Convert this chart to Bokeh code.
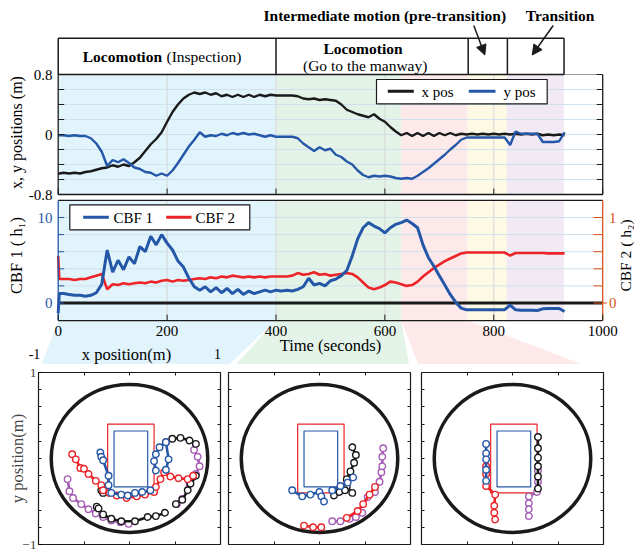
import math
from bokeh.plotting import figure
from bokeh.models import Range1d, FixedTicker, LinearAxis, Arrow, NormalHead
from bokeh.layouts import column, row
from bokeh.embed import file_html
from bokeh.resources import INLINE
from bokeh.core.properties import value

FONT = "Liberation Serif"
NAN = float("nan")

# ------------------------------------------------------------------ data
time_s = [0, 2] + list(range(10, 940, 10))

x_pos = [
    -0.52, -0.52,
    -0.51, -0.52, -0.51, -0.52, -0.50, -0.49, -0.47, -0.45, -0.44, -0.41,
    -0.43, -0.40, -0.42, -0.37, -0.31, -0.22, -0.13, -0.06, 0.03, 0.17,
    0.30, 0.40, 0.48, 0.53, 0.56, 0.54, 0.56, 0.53, 0.55, 0.51,
    0.53, 0.50, 0.53, 0.50, 0.53, 0.50, 0.53, 0.51, 0.53, 0.52,
    0.52, 0.52, 0.52, 0.51, 0.48, 0.47, 0.48, 0.46, 0.47, 0.46,
    0.45, 0.40, 0.33, 0.30, 0.27, 0.25, 0.23, 0.27, 0.21, 0.17,
    0.10, 0.04, -0.01, 0.02, -0.02, 0.02, -0.02, 0.02, -0.02, 0.02,
    -0.01, 0.02, -0.01, 0.01, 0.00, 0.01, 0.00, 0.01, 0.00, 0.01,
    0.00, 0.01, 0.00, 0.01, 0.00, 0.01, 0.00, 0.01, -0.01, 0.00,
    -0.01, 0.00, -0.01]

y_pos = [
    -0.01, -0.01,
    -0.01, -0.02, -0.01, -0.02, -0.02, -0.05, -0.12, -0.23, -0.42, -0.34,
    -0.37, -0.33, -0.38, -0.44, -0.46, -0.50, -0.51, -0.55, -0.52, -0.55,
    -0.48, -0.38, -0.27, -0.16, -0.07, 0.03, -0.03, -0.01, -0.02, 0.01,
    -0.01, 0.02, 0.00, 0.02, 0.00, 0.01, -0.01, -0.03, -0.01, -0.03,
    -0.03, -0.03, -0.03, -0.05, -0.12, -0.17, -0.22, -0.17, -0.21, -0.19,
    -0.27, -0.30, -0.36, -0.40, -0.48, -0.54, -0.57, -0.55, -0.56, -0.55,
    -0.56, -0.58, -0.59, -0.58, -0.59, -0.55, -0.50, -0.45, -0.39, -0.33,
    -0.27, -0.20, -0.14, -0.07, -0.04, -0.04, -0.04, -0.04, -0.04, -0.04,
    -0.04, -0.04, -0.14, 0.04, 0.01, 0.01, 0.01, 0.01, -0.10, -0.10,
    -0.10, -0.09, 0.03]

cbf1 = [
    -1.2, 1.1,
    1.1, 1.0, 0.9, 0.9, 0.8, 0.9, 1.2, 2.2, 6.2, 3.6,
    5.0, 3.9, 5.4, 4.6, 6.6, 6.0, 7.8, 6.8, 8.0, 7.0,
    6.2, 4.9, 4.2, 2.9, 1.9, 1.5, 1.9, 1.3, 1.8, 1.2,
    1.7, 1.1, 1.6, 1.0, 1.4, 1.1, 1.3, 1.5, 1.3, 1.5,
    1.4, 1.5, 1.4, 1.6, 1.9, 2.9, 2.1, 2.3, 2.0, 2.6,
    2.8, 3.2, 3.8, 5.5, 7.5, 8.8, 9.4, 9.0, 8.7, 8.2,
    8.8, 9.2, 9.4, 9.7, 9.3, 8.8, 6.8, 5.3, 4.3, 3.2,
    2.1, 1.0, 0.1, -0.6, -0.8, -0.8, -0.8, -0.8, -0.8, -0.8,
    -0.8, -0.78, -0.25, -0.8, -0.85, -0.85, -0.85, -0.88, -0.68, -0.63,
    -0.63, -0.65, -1.0]

cbf2 = [
    0.55, 0.28,
    0.28, 0.28, 0.27, 0.28, 0.28, 0.30, 0.32, 0.34, 0.16, 0.22,
    0.21, 0.23, 0.22, 0.23, 0.24, 0.23, 0.25, 0.24, 0.26, 0.27,
    0.25, 0.27, 0.26, 0.27, 0.28, 0.29, 0.28, 0.30, 0.29, 0.31,
    0.30, 0.32, 0.31, 0.30, 0.31, 0.30, 0.31, 0.30, 0.31, 0.31,
    0.31, 0.31, 0.32, 0.35, 0.33, 0.34, 0.36, 0.33, 0.34, 0.32,
    0.33, 0.34, 0.35, 0.34, 0.30, 0.24, 0.18, 0.16, 0.18, 0.21,
    0.25, 0.24, 0.22, 0.20, 0.21, 0.25, 0.31, 0.36, 0.41, 0.45,
    0.49, 0.52, 0.55, 0.58, 0.59, 0.59, 0.59, 0.59, 0.59, 0.59,
    0.59, 0.59, 0.555, 0.585, 0.585, 0.585, 0.585, 0.585, 0.585, 0.58,
    0.58, 0.58, 0.58]

phase_edges = [0, 400, 630, 752, 824, 929]
phase_colors = ["#e1f3fb", "#e4f3e7", "#fde9e9", "#fef9e4", "#f1eaf5"]
header_edges = [0, 400, 753, 825, 929]
time_limits = [0, 1000]
time_ticks = [0, 200, 400, 600, 800, 1000]
time_tick_labels = ["0", "200", "400", "600", "800", "1000"]
pos_lim = (-0.8, 0.8)
pos_ticks = [0.8, 0, -0.8]
pos_tick_labels = ["0.8", "0", "-0.8"]
pos_minor = [-0.8, -0.6, -0.4, -0.2, 0, 0.2, 0.4, 0.6, 0.8]
cbf1_lim = (-2.05, 12.0)
cbf1_ticks = [10, 0]
cbf1_tick_labels = ["10", "0"]
cbf1_minor = [0, 2, 4, 6, 8, 10]
cbf2_lim = (-0.205, 1.2)
cbf2_ticks = [1, 0]
cbf2_tick_labels = ["1", "0"]
cbf2_minor = [0, 0.2, 0.4, 0.6, 0.8, 1.0]

# bottom panels (x, y positions of the four legs, in metres)
tank_radius = 0.86
robot_outer = (-0.24, 0.27, -0.40, 0.40)
robot_inner = (-0.17, 0.20, -0.33, 0.32)
sub_x_minor = [-0.5, 0, 0.5]
sub_y_minor = [-0.8, -0.6, -0.4, -0.2, 0, 0.2, 0.4, 0.6, 0.8]

s1_red_x = [-0.63, -0.59, -0.54, -0.50, -0.45, -0.37, -0.31, -0.29, -0.22, -0.14, -0.03, 0.08, 0.17, 0.27, 0.29, 0.34, 0.38, 0.45, 0.54, 0.64, 0.70]
s1_red_y = [0.05, -0.01, -0.11, -0.12, -0.18, -0.26, -0.31, -0.37, -0.40, -0.43, -0.46, -0.44, -0.42, -0.39, -0.33, -0.24, -0.16, -0.21, -0.23, -0.24, -0.20]
s1_blue_x = [-0.32, -0.31, -0.29, -0.23, -0.23, -0.20, -0.09, -0.02, 0.06, 0.14, 0.23, NAN, 0.29, 0.27, 0.29, 0.33, 0.40, 0.43, 0.40]
s1_blue_y = [0.07, 0.02, -0.02, -0.20, -0.31, -0.40, -0.42, -0.43, -0.40, -0.39, -0.37, NAN, -0.14, -0.03, 0.05, 0.13, 0.19, -0.01, -0.13]
s1_black_x = [-0.36, -0.34, -0.29, -0.20, -0.09, 0.06, 0.20, 0.29, 0.39, NAN, 0.51, 0.58, 0.64, 0.67, 0.73, NAN, 0.40, 0.47, 0.56, 0.66, 0.73, NAN, -0.31, -0.29]
s1_black_y = [-0.56, -0.58, -0.65, -0.70, -0.73, -0.73, -0.68, -0.67, -0.63, NAN, -0.53, -0.48, -0.37, -0.29, -0.20, NAN, 0.19, 0.23, 0.24, 0.21, 0.17, NAN, -0.37, -0.40]
s1_purple_x = [-0.68, -0.66, -0.62, -0.53, -0.45, -0.37, -0.29, -0.20, -0.10, -0.01, NAN, 0.71, 0.75, 0.77, 0.73, 0.69, 0.66, NAN, 0.58, 0.52]
s1_purple_y = [-0.24, -0.38, -0.46, -0.53, -0.59, -0.64, -0.68, -0.72, -0.74, -0.76, NAN, 0.10, 0.02, -0.09, -0.18, -0.22, -0.30, NAN, -0.47, -0.53]

s2_blue_x = [-0.30, -0.19, -0.10, 0.00, 0.02, 0.05, NAN, 0.14, 0.23, 0.31, 0.37]
s2_blue_y = [-0.37, -0.44, -0.42, -0.39, -0.44, -0.50, NAN, -0.37, -0.32, -0.28, -0.22]
s2_black_x = [0.36, 0.40, 0.38, 0.34, 0.30, 0.30, 0.36, NAN, 0.16, 0.22, 0.28]
s2_black_y = [0.13, 0.04, -0.05, -0.15, -0.24, -0.33, -0.40, NAN, -0.43, -0.39, -0.37]
s2_red_x = [-0.17, -0.07, 0.02, NAN, 0.30, 0.42, 0.48, 0.55, 0.61]
s2_red_y = [-0.78, -0.80, -0.80, NAN, -0.69, -0.61, -0.53, -0.42, -0.33]
s2_purple_x = [0.14, 0.23, 0.33, 0.40, 0.47, NAN, 0.53, 0.61, 0.66, 0.68, 0.69, 0.69, 0.70]
s2_purple_y = [-0.73, -0.73, -0.70, -0.68, -0.63, NAN, -0.45, -0.39, -0.27, -0.16, -0.09, 0.02, 0.12]

s3_blue_x = [-0.29, -0.29, -0.29, -0.29, -0.29]
s3_blue_y = [0.17, 0.06, -0.01, -0.13, -0.26]
s3_red_x = [-0.29, -0.29, -0.29, -0.19, -0.20, -0.20, -0.19]
s3_red_y = [-0.09, -0.18, -0.32, -0.42, -0.55, -0.63, -0.71]
s3_black_x = [0.28, 0.28, 0.28, 0.28, 0.28, 0.28]
s3_black_y = [0.25, 0.12, 0.01, -0.09, -0.21, -0.35]
s3_purple_x = [0.28, 0.28, 0.27, 0.18, 0.18, 0.18, 0.18]
s3_purple_y = [-0.14, -0.27, -0.39, -0.44, -0.52, -0.59, -0.67]

# ------------------------------------------------------------------ style
BLUE = "#2457a8"
RED = "#ec2327"
BLACK = "#1a1a1a"
ORANGE = "#d95319"
PURPLE = "#a55db5"
GRID_H = "#cfe1ec"
GRID_V = "#d6d6d6"

W = 634
H1 = 364
H2 = 550 - H1
SUB_TOP = 8
Y_TOP, Y_BOT = 0, H1


def tx(X):
    """page x pixel -> time units of the top panel"""
    return (X - 57.7) / 0.5445


def rng(y0, k):
    return Range1d(start=(y0 - Y_BOT) / k, end=(y0 - Y_TOP) / k)


def txt(p, x, y, text, size="15px", align="center", baseline="middle", color="black",
        style="normal", angle=0, yr="default"):
    p.text(x=x, y=y, text=text, text_font=value(FONT), text_font_size=value(size),
           text_align=align, text_baseline=baseline, text_color=color,
           text_font_style=style, angle=angle, y_range_name=yr)


top = figure(width=W, height=H1, x_range=Range1d(tx(0), tx(W)), y_range=Range1d(Y_BOT, Y_TOP),
             output_backend="svg", toolbar_location=None, min_border=0,
             x_axis_location=None, y_axis_location=None)
top.grid.visible = False
top.outline_line_color = None
top.extra_y_ranges = {"pos": rng(134, 75), "cbf1": rng(302.5, 8.55), "cbf2": rng(302.5, 85.5)}

# connector wedges toward the bottom panels
wedge_xs = [[phase_edges[0], phase_edges[1], tx(220), tx(38)],
            [phase_edges[1], phase_edges[2], tx(410), tx(228)],
            [phase_edges[2], phase_edges[3], tx(603), tx(421)]]
wedge_ys = [[320, 320, H1 + SUB_TOP, H1 + SUB_TOP]] * 3
top.patches(wedge_xs, wedge_ys, fill_color=phase_colors[:3], line_color=None)

# phase bands
for yr, lim in (("pos", pos_lim), ("cbf1", cbf1_lim)):
    top.quad(left=phase_edges[:-1], right=phase_edges[1:], bottom=lim[0], top=lim[1],
             fill_color=phase_colors, line_color=None, y_range_name=yr)
    top.segment(x0=time_ticks[1:-1], y0=lim[0], x1=time_ticks[1:-1], y1=lim[1],
                line_color=GRID_V, line_width=1, y_range_name=yr)

hg = [v for v in pos_minor if abs(v) < 0.7]
top.segment(x0=0, y0=hg, x1=1000, y1=hg, line_color=GRID_H, line_width=1, y_range_name="pos")
hg2 = [v for v in cbf1_minor if v > 0]
top.segment(x0=0, y0=hg2, x1=1000, y1=hg2, line_color=GRID_H, line_width=1, y_range_name="cbf1")

# zero reference line in CBF panel
top.line(time_limits, [0, 0], line_color=BLACK, line_width=3, y_range_name="cbf1")

# series
top.line(time_s, x_pos, line_color=BLACK, line_width=2.4, y_range_name="pos")
top.line(time_s, y_pos, line_color=BLUE, line_width=2.4, y_range_name="pos")
top.line(time_s, cbf2, line_color=RED, line_width=2.6, y_range_name="cbf2")
top.line(time_s, cbf1, line_color=BLUE, line_width=3, y_range_name="cbf1")

# frames
top.segment(x0=[0, 1000, 0], y0=[-0.8, -0.8, -0.8], x1=[0, 1000, 1000], y1=[0.8, 0.8, -0.8],
            line_color=BLACK, line_width=1.3, y_range_name="pos")
top.segment(x0=929, y0=0.8, x1=1000, y1=0.8, line_color="#999999", line_width=1, y_range_name="pos")
top.segment(x0=[0, 0], y0=[cbf1_lim[0], cbf1_lim[1]], x1=[1000, 1000], y1=[cbf1_lim[0], cbf1_lim[1]],
            line_color=BLACK, line_width=1.3, y_range_name="cbf1")
top.segment(x0=0, y0=cbf1_lim[0], x1=0, y1=cbf1_lim[1], line_color=BLUE, line_width=1.3, y_range_name="cbf1")
top.segment(x0=1000, y0=cbf2_lim[0], x1=1000, y1=cbf2_lim[1], line_color=ORANGE, line_width=1.3, y_range_name="cbf2")

# ticks (inside)
TL = 11
top.segment(x0=0, y0=pos_minor, x1=TL, y1=pos_minor, line_color=BLACK, y_range_name="pos")
top.segment(x0=1000, y0=pos_minor, x1=1000 - TL, y1=pos_minor, line_color=BLACK, y_range_name="pos")
top.segment(x0=0, y0=cbf1_minor, x1=TL, y1=cbf1_minor, line_color=BLUE, y_range_name="cbf1")
top.segment(x0=1000, y0=cbf2_minor, x1=1000 - 17, y1=cbf2_minor, line_color=ORANGE, y_range_name="cbf2")
top.segment(x0=1000, y0=0, x1=1000 + 8, y1=0, line_color=ORANGE, y_range_name="cbf2")
top.segment(x0=time_ticks, y0=cbf1_lim[0], x1=time_ticks, y1=cbf1_lim[0] + 0.7, line_color=BLACK, y_range_name="cbf1")
top.segment(x0=time_ticks, y0=-0.8, x1=time_ticks, y1=-0.72, line_color=BLACK, y_range_name="pos")

# tick labels
txt(top, [tx(52)] * 3, pos_ticks, pos_tick_labels, align="right", yr="pos")
txt(top, [tx(52)] * 2, cbf1_ticks, cbf1_tick_labels, align="right", color=BLUE, yr="cbf1")
txt(top, [tx(608.5)] * 2, cbf2_ticks, cbf2_tick_labels, align="left", color=ORANGE, yr="cbf2")
txt(top, time_ticks, [330.5] * len(time_ticks), time_tick_labels)
txt(top, [500], [345], ["Time (seconds)"], size="16.5px")

# axis titles
txt(top, [tx(15.5)], [132], ["x, y positions (m)"], size="16px", angle=math.pi / 2)
txt(top, [tx(16)], [255], ["CBF 1 ( h\u2081)"], size="16.5px", angle=math.pi / 2)
txt(top, [tx(625)], [255], ["CBF 2 ( h\u2082)"], size="15.5px", angle=math.pi / 2)

# labels of the first bottom panel's top axis
txt(top, [tx(126)], [354], ["x position(m)"], size="16.5px")
txt(top, [tx(34)], [353], ["-1"], size="14px")
txt(top, [tx(217)], [353], ["1"], size="14px")

# header phase boxes
top.segment(x0=0, y0=[37.7, 74], x1=header_edges[-1], y1=[37.7, 74], line_color=BLACK, line_width=1.5)
top.segment(x0=header_edges, y0=37.7, x1=header_edges, y1=74, line_color=BLACK, line_width=1.5)
txt(top, [tx(161.5)], [56], ["Locomotion"], size="15.5px", align="right", style="bold")
txt(top, [tx(166)], [56], ["(Inspection)"], size="15.5px", align="left")
txt(top, [tx(362.5)], [47.5], ["Locomotion"], size="15.5px", style="bold")
txt(top, [tx(364.7)], [65], ["(Go to the manway)"], size="15.5px")
txt(top, [tx(384.3)], [14.5], ["Intermediate motion (pre-transition)"], size="15.5px", style="bold")
txt(top, [tx(559.5)], [14.5], ["Transition"], size="15.5px", style="bold")
for xs, ys, xe, ye in ((473.3, 25, 484.3, 54.5), (552.7, 25, 531.7, 54.5)):
    top.add_layout(Arrow(x_start=tx(xs), y_start=ys, x_end=tx(xe), y_end=ye, line_width=1.5,
                         line_color=BLACK,
                         end=NormalHead(size=10, fill_color=BLACK, line_color=BLACK)))

# legends
top.quad(left=tx(376), right=tx(546.7), bottom=103.3, top=79, fill_color="white", line_color=BLACK, line_width=1.2)
top.segment(x0=[tx(387.3), tx(468.3)], y0=90.7, x1=[tx(413.3), tx(495)], y1=90.7,
            line_color=[BLACK, BLUE], line_width=3)
txt(top, [tx(421), tx(503)], [91, 91], ["x pos", "y pos"], align="left")

top.quad(left=tx(69.3), right=tx(249.3), bottom=229.3, top=204.3, fill_color="white", line_color=BLACK, line_width=1.2)
top.segment(x0=[tx(82.7), tx(165.7)], y0=216.7, x1=[tx(108.3), tx(191)], y1=216.7,
            line_color=[BLUE, RED], line_width=3)
txt(top, [tx(113), tx(195)], [217, 217], ["CBF 1", "CBF 2"], align="left")


# ------------------------------------------------------------------ bottom panels
def subplot(width, left_b, right_b, legs, with_labels):
    p = figure(width=width, height=H2, x_range=Range1d(-1, 1), y_range=Range1d(-1, 1),
               output_backend="svg", toolbar_location=None,
               x_axis_location=None, y_axis_location=None,
               min_border_left=left_b, min_border_right=right_b,
               min_border_top=SUB_TOP, min_border_bottom=6)
    p.grid.visible = False
    p.outline_line_color = BLACK
    p.outline_line_width = 1.2
    for side in ("left", "right", "above", "below"):
        vertical = side in ("left", "right")
        labelled = with_labels and side == "left"
        ticker = FixedTicker(ticks=[-1, 1] if labelled else [],
                             minor_ticks=sub_y_minor if vertical else sub_x_minor)
        ax = LinearAxis(ticker=ticker, axis_line_color=None, major_tick_in=3, major_tick_out=0,
                        minor_tick_in=3, minor_tick_out=0, minor_tick_line_color=BLACK,
                        major_label_standoff=2, major_label_text_font=FONT,
                        major_label_text_font_size="13.5px")
        if labelled:
            ax.axis_label = "y position(m)"
            ax.axis_label_text_font = FONT
            ax.axis_label_text_font_style = "normal"
            ax.axis_label_text_font_size = "16.5px"
            ax.axis_label_standoff = -8
        p.add_layout(ax, side)
    p.ellipse(x=0, y=0, width=2 * tank_radius, height=2 * tank_radius, fill_color=None,
              line_color=BLACK, line_width=3.5)
    for (l, r, b, t), c in ((robot_outer, RED), (robot_inner, BLUE)):
        p.quad(left=l, right=r, bottom=b, top=t, fill_color=None, line_color=c, line_width=1.2)
    for xs, ys, c in legs:
        p.line(xs, ys, line_color=c, line_width=2.6)
        p.scatter(xs, ys, marker="circle", size=6.5, fill_color="white", line_color=c, line_width=1.4)
    return p


s1 = subplot(224, 38, 4, [(s1_purple_x, s1_purple_y, PURPLE), (s1_black_x, s1_black_y, BLACK),
                          (s1_red_x, s1_red_y, RED), (s1_blue_x, s1_blue_y, BLUE)], True)
s2 = subplot(190, 4, 4, [(s2_purple_x, s2_purple_y, PURPLE), (s2_black_x, s2_black_y, BLACK),
                         (s2_red_x, s2_red_y, RED), (s2_blue_x, s2_blue_y, BLUE)], False)
s3 = subplot(220, 7, 31, [(s3_purple_x, s3_purple_y, PURPLE), (s3_black_x, s3_black_y, BLACK),
                          (s3_red_x, s3_red_y, RED), (s3_blue_x, s3_blue_y, BLUE)], False)

layout = column(top, row(s1, s2, s3))
open("out.html", "w").write(file_html(layout, INLINE))
